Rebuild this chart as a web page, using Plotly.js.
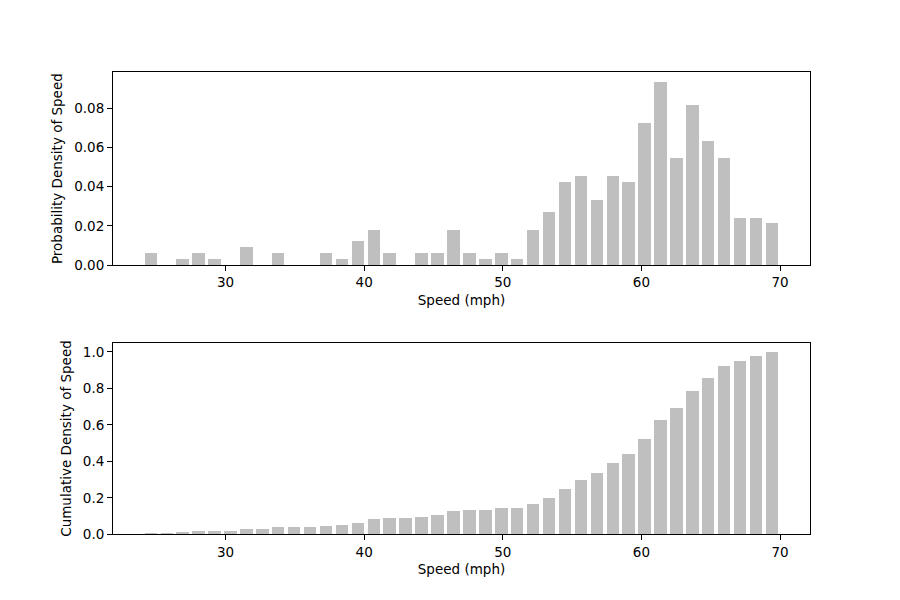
<!DOCTYPE html>
<html>
<head>
<meta charset="utf-8">
<script src="https://cdn.plot.ly/plotly-3.0.1.min.js"></script>
<style>html,body{margin:0;padding:0;background:#fff;}#chart{width:900px;height:600px;}</style>
</head>
<body>
<div id="chart"></div>
<script>
// Bin centres (mph)
const speedBins = [24.61, 25.76, 26.91, 28.06, 29.21, 30.36, 31.50, 32.65, 33.80, 34.95,
                   36.10, 37.25, 38.40, 39.55, 40.70, 41.84, 42.99, 44.14, 45.29, 46.44,
                   47.59, 48.74, 49.89, 51.03, 52.18, 53.33, 54.48, 55.63, 56.78, 57.93,
                   59.08, 60.22, 61.37, 62.52, 63.67, 64.82, 65.97, 67.12, 68.26, 69.41];
// Probability density per bin
const densityValues = [0.00604, 0, 0.00302, 0.00604, 0.00302, 0, 0.00907, 0, 0.00604, 0,
                       0, 0.00604, 0.00302, 0.01209, 0.01813, 0.00604, 0, 0.00604, 0.00604, 0.01813,
                       0.00604, 0.00302, 0.00604, 0.00302, 0.01813, 0.0272, 0.0423, 0.0453, 0.0332, 0.0453,
                       0.0423, 0.0725, 0.0937, 0.0544, 0.0816, 0.0635, 0.0544, 0.0242, 0.0242, 0.0212];
// Cumulative density per bin
const cumulativeValues = [0.0069, 0.0069, 0.0104, 0.0174, 0.0208, 0.0208, 0.0313, 0.0313, 0.0382, 0.0382,
                          0.0382, 0.0451, 0.0486, 0.0625, 0.0833, 0.0903, 0.0903, 0.0972, 0.1042, 0.1250,
                          0.1319, 0.1354, 0.1424, 0.1458, 0.1667, 0.1979, 0.2465, 0.2986, 0.3368, 0.3889,
                          0.4375, 0.5208, 0.6285, 0.6910, 0.7847, 0.8576, 0.9201, 0.9479, 0.9757, 1.0];
const xTicks = [30, 40, 50, 60, 70];
const densityTicks = [0, 0.02, 0.04, 0.06, 0.08];
const cumulativeTicks = [0, 0.2, 0.4, 0.6, 0.8, 1.0];

const barColor = '#bfbfbf';
const barWidth = 0.9;
const font = {family: 'DejaVu Sans', size: 13.5, color: '#000'};

const traces = [
  {type: 'bar', x: speedBins, y: densityValues, width: barWidth,
   marker: {color: barColor, line: {width: 0}}, xaxis: 'x', yaxis: 'y', hoverinfo: 'x+y'},
  {type: 'bar', x: speedBins, y: cumulativeValues, width: barWidth,
   marker: {color: barColor, line: {width: 0}}, xaxis: 'x2', yaxis: 'y2', hoverinfo: 'x+y'}
];

function xAxis(anchor, domainY) {
  return {
    domain: [113/900, 810/900], anchor: anchor, range: [21.88, 72.16],
    tickvals: xTicks, ticktext: xTicks.map(String),
    showline: true, mirror: true, linecolor: '#000', linewidth: 1,
    ticks: 'outside', ticklen: 5, tickwidth: 1, tickcolor: '#000',
    showgrid: false, zeroline: false, tickfont: font, automargin: false,
    title: {text: 'Speed (mph)', font: font, standoff: 6}
  };
}
function yAxis(anchor, domain, range, ticks, fmt, label) {
  return {
    domain: domain, anchor: anchor, range: range,
    tickvals: ticks, tickformat: fmt,
    showline: true, mirror: true, linecolor: '#000', linewidth: 1,
    ticks: 'outside', ticklen: 5, tickwidth: 1, tickcolor: '#000',
    showgrid: false, zeroline: false, tickfont: font, automargin: false,
    title: {text: label, font: font, standoff: 8}
  };
}

const layout = {
  width: 900, height: 600,
  margin: {l: 0, r: 0, t: 0, b: 0},
  paper_bgcolor: '#fff', plot_bgcolor: '#fff',
  showlegend: false, bargap: 0,
  font: font,
  xaxis: xAxis('y'),
  yaxis: yAxis('x', [1 - 265/600, 1 - 72.3/600], [0, 0.0984], densityTicks, '.2f', 'Probability Density of Speed'),
  xaxis2: xAxis('y2'),
  yaxis2: yAxis('x2', [1 - 534.3/600, 1 - 342.7/600], [0, 1.05], cumulativeTicks, '.1f', 'Cumulative Density of Speed')
};

Plotly.newPlot('chart', traces, layout, {displayModeBar: false, staticPlot: true});
</script>
</body>
</html>
